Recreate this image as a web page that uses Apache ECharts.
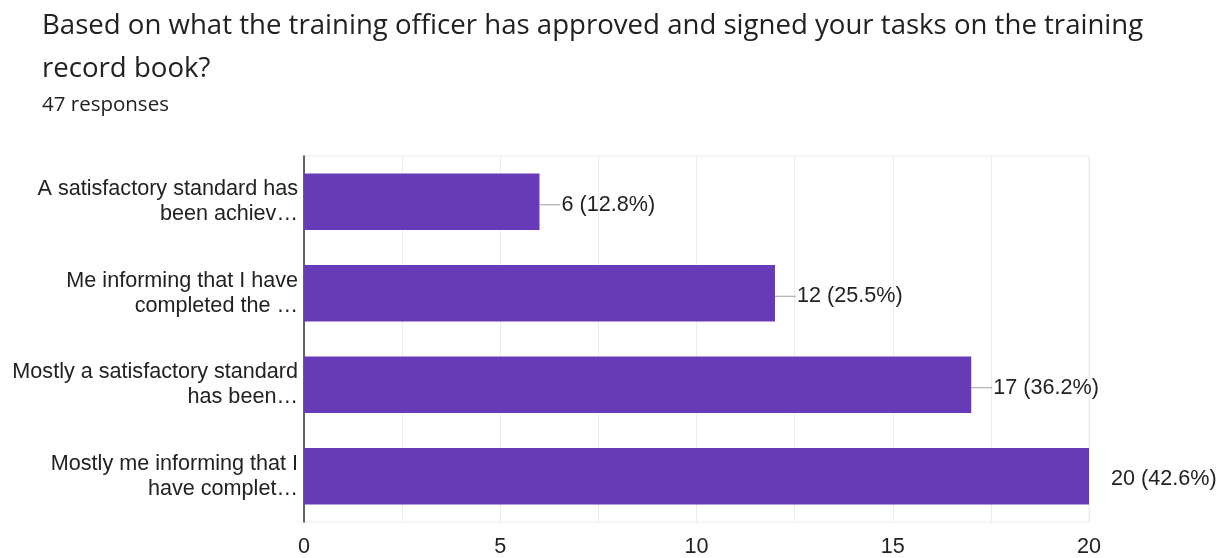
<!DOCTYPE html>
<html>
<head>
<meta charset="utf-8">
<script src="https://cdn.jsdelivr.net/npm/echarts@6/dist/echarts.min.js"></script>
<style>
  html, body { margin: 0; padding: 0; background: #fff; }
  #chart { width: 1226px; height: 558px; }
</style>
</head>
<body>
<div id="chart"></div>
<script>
// Survey answers (labels as shown, truncated) and response counts
const categories = [
  'A satisfactory standard has\nbeen achiev…',
  'Me informing that I have\ncompleted the …',
  'Mostly a satisfactory standard\nhas been…',
  'Mostly me informing that I\nhave complet…'
];
const counts = [6, 12, 17, 20];
const percents = ['12.8%', '25.5%', '36.2%', '42.6%'];
const xTicks = [0, 5, 10, 15, 20];

const titleText = 'Based on what the training officer has approved and signed your tasks on the training\nrecord book?';
const subtitleText = '47 responses';

const labelFont = 'Liberation Sans, Arial, sans-serif';
const headFont = '"Open Sans", Roboto, sans-serif';
const labelSize = 21.6;

const chart = echarts.init(document.getElementById('chart'), null, { renderer: 'canvas' });

const barData = counts.map((v, i) => ({
  value: v,
  label: {
    rich: {
      lead: {
        width: 21, height: 1,
        backgroundColor: i === counts.length - 1 ? 'transparent' : '#9e9e9e'
      },
      txt: { fontSize: labelSize, color: '#222', fontFamily: labelFont, padding: [0, 0, 0, 1] }
    }
  }
}));

chart.setOption({
  animation: false,
  title: [
    {
      text: titleText,
      left: 37, top: 0,
      textStyle: { fontSize: 27.6, fontWeight: 'normal', color: '#202124', lineHeight: 43, fontFamily: headFont }
    },
    {
      text: subtitleText,
      left: 37, top: 90,
      textStyle: { fontSize: 20.5, fontWeight: 'normal', color: '#202124', fontFamily: headFont }
    }
  ],
  grid: {
    left: 304, right: 137, top: 156, bottom: 35,
    show: true, borderColor: '#ececec', borderWidth: 1,
    containLabel: false
  },
  xAxis: {
    type: 'value',
    min: xTicks[0], max: xTicks[xTicks.length - 1], interval: 5,
    axisLine: { show: false },
    axisTick: { show: false },
    axisLabel: { fontSize: labelSize, color: '#222', margin: 14, fontFamily: labelFont },
    splitLine: { show: true, lineStyle: { color: '#ececec', width: 1 } },
    minorTick: { show: false, splitNumber: 2 },
    minorSplitLine: { show: true, lineStyle: { color: '#ececec', width: 1 } }
  },
  yAxis: {
    type: 'category',
    data: categories,
    inverse: true,
    axisLine: { show: true, lineStyle: { color: '#333', width: 1.5 } },
    axisTick: { show: false },
    axisLabel: {
      fontSize: labelSize, color: '#222', margin: 6, lineHeight: 25, align: 'right',
      fontFamily: labelFont
    },
    splitLine: { show: false }
  },
  series: [{
    type: 'bar',
    data: barData,
    barCategoryGap: '38%',
    itemStyle: { color: '#673ab7' },
    label: {
      show: true,
      position: 'right',
      distance: 0,
      offset: [0, 3],
      formatter: (p) => '{lead|}{txt|' + p.value + ' (' + percents[p.dataIndex] + ')}'
    }
  }]
});
</script>
</body>
</html>
